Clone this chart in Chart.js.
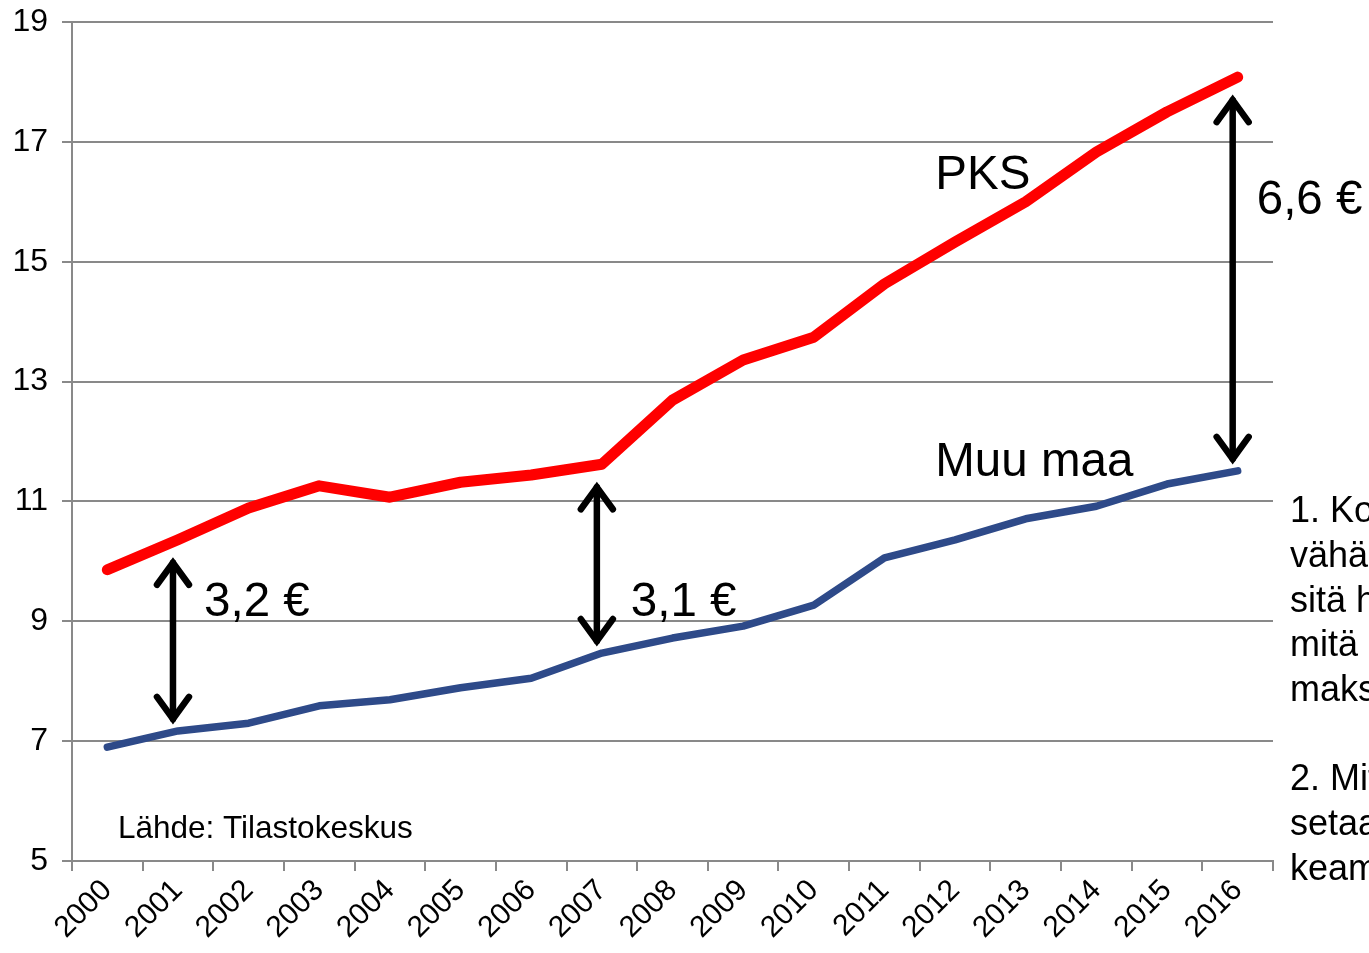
<!DOCTYPE html>
<html>
<head>
<meta charset="utf-8">
<script src="https://cdn.jsdelivr.net/npm/chart.js@4"></script>
<style>
html,body{margin:0;padding:0;background:#fff;}
#wrap{width:1369px;height:953px;position:relative;}
</style>
</head>
<body>
<div id="wrap"><canvas id="c" width="1369" height="953"></canvas></div>
<script>
const years = ['2000','2001','2002','2003','2004','2005','2006','2007','2008','2009','2010','2011','2012','2013','2014','2015','2016'];
const pks = [9.86,10.36,10.89,11.26,11.07,11.32,11.44,11.62,12.69,13.36,13.74,14.63,15.33,16.00,16.83,17.50,18.08];
const muuMaa = [6.90,7.17,7.30,7.59,7.69,7.89,8.05,8.47,8.72,8.92,9.27,10.06,10.36,10.71,10.92,11.29,11.51];
const yMin = 5, yMax = 19, yStep = 2;

const seriesLabels = ['PKS','Muu maa'];
const gapYears = ['2001','2007','2016'];
const gapLabels = ['3,2 €','3,1 €','6,6 €'];
const sourceText = 'Lähde: Tilastokeskus';
const sideText = ['1. Kotitalouksien','vähäinen','sitä hintaa','mitä','maksetaan','','2. Mitä','setaan','keampi'];

const FONT = '"Liberation Sans", Arial, sans-serif';

const annot = {
  id: 'annot',
  afterDatasetsDraw(chart) {
    const ctx = chart.ctx, xs = chart.scales.x, ys = chart.scales.y;
    const X = v => xs.getPixelForValue(v), Y = v => ys.getPixelForValue(v);
    ctx.save();
    // arrows
    ctx.strokeStyle = '#000'; ctx.fillStyle = '#000'; ctx.lineWidth = 6.5; ctx.lineCap = 'round'; ctx.lineJoin = 'miter';
    gapYears.forEach((yr, k) => {
      const i = years.indexOf(yr);
      const px = X(i) - 5;
      const top = Y(pks[i]) + 17;
      const bot = Y(muuMaa[i]) - 6;
      ctx.beginPath(); ctx.moveTo(px, top + 6); ctx.lineTo(px, bot - 6); ctx.stroke();
      ctx.beginPath(); ctx.moveTo(px - 16, top + 28); ctx.lineTo(px, top + 6); ctx.lineTo(px + 16, top + 28); ctx.stroke();
      ctx.beginPath(); ctx.moveTo(px - 16, bot - 28); ctx.lineTo(px, bot - 6); ctx.lineTo(px + 16, bot - 28); ctx.stroke();
    });
    ctx.fillStyle = '#000'; ctx.textBaseline = 'middle'; ctx.textAlign = 'left';
    ctx.font = '47.5px ' + FONT;
    ctx.fillText(seriesLabels[0], X(11.72), Y(16.43));
    ctx.fillText(seriesLabels[1], X(11.72), Y(11.64));
    ctx.fillText(gapLabels[0], X(1.37), Y(9.31));
    ctx.fillText(gapLabels[1], X(7.41), Y(9.31));
    ctx.fillText(gapLabels[2], X(16.27), Y(16.01));
    ctx.font = '31.5px ' + FONT;
    ctx.fillText(sourceText, X(0.15), Y(5.53));
    ctx.font = '36px ' + FONT;
    sideText.forEach((t, k) => { if (t) ctx.fillText(t, chart.chartArea.right + 17, Y(10.82) + k * 44.7); });
    ctx.restore();
  }
};

new Chart(document.getElementById('c'), {
  type: 'line',
  data: {
    labels: years,
    datasets: [
      { label: seriesLabels[0], data: pks, borderColor: '#FF0000', borderWidth: 11, pointRadius: 0, borderCapStyle: 'round', borderJoinStyle: 'round', tension: 0 },
      { label: seriesLabels[1], data: muuMaa, borderColor: '#2E4A89', borderWidth: 7.5, pointRadius: 0, borderCapStyle: 'round', borderJoinStyle: 'round', tension: 0 }
    ]
  },
  options: {
    responsive: false,
    animation: false,
    devicePixelRatio: 1,
    layout: { padding: { left: 0, right: 96, top: 22, bottom: 0 } },
    plugins: { legend: { display: false }, tooltip: { enabled: false } },
    scales: {
      x: {
        offset: true,
        grid: { offset: true, drawOnChartArea: false, drawTicks: true, tickLength: 10, color: '#898989', lineWidth: 2 },
        border: { color: '#898989', width: 2 },
        ticks: { autoSkip: false, maxRotation: 45, minRotation: 45, color: '#000', font: { family: FONT, size: 30 }, padding: 2 },
        afterFit(s) { s.height = 92; s.paddingLeft = 0; s.paddingRight = 0; }
      },
      y: {
        min: yMin, max: yMax,
        grid: { color: '#898989', lineWidth: 2, tickLength: 10 },
        border: { color: '#898989', width: 2 },
        ticks: { stepSize: yStep, color: '#000', font: { family: FONT, size: 32 }, padding: 14 },
        afterFit(s) { s.width = 72; s.paddingTop = 0; s.paddingBottom = 0; }
      }
    }
  },
  plugins: [annot]
});
</script>
</body>
</html>
